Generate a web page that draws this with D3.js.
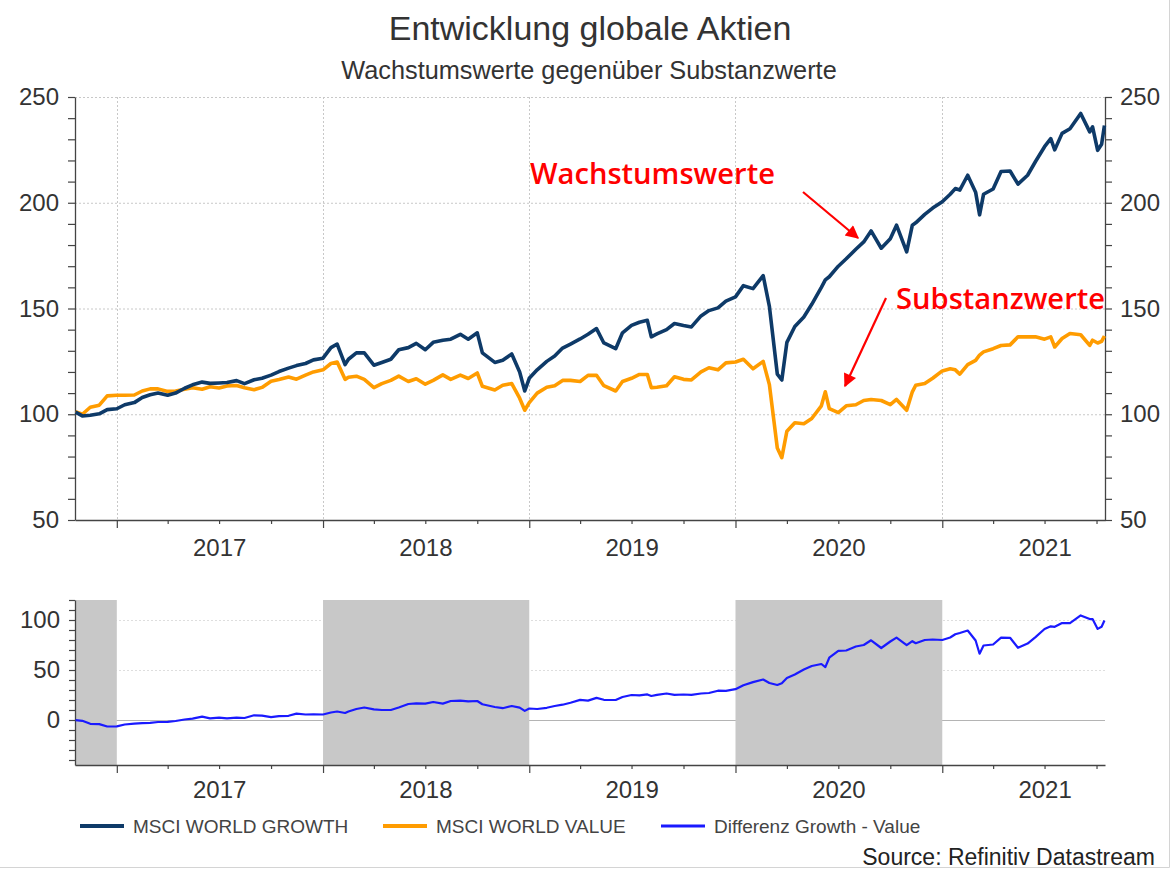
<!DOCTYPE html>
<html>
<head>
<meta charset="utf-8">
<script src="https://cdn.jsdelivr.net/npm/d3@7"></script>
<style>
  body { margin: 0; background: #fff; }
  svg { display: block; }
</style>
</head>
<body>
<div id="chart"></div>
<script>
// weekly-ish readings, index 100 = Oct 2016
var dates = [
  "2016-10-20","2016-11-01","2016-11-15","2016-12-01","2016-12-15",
  "2017-01-01","2017-01-15","2017-02-01","2017-02-15","2017-03-01","2017-03-15","2017-04-01","2017-04-15",
  "2017-05-01","2017-05-15","2017-06-01","2017-06-15","2017-07-01","2017-07-15","2017-08-01","2017-08-15",
  "2017-09-01","2017-09-15","2017-10-01","2017-10-15","2017-11-01","2017-11-15","2017-12-01","2017-12-15",
  "2018-01-01","2018-01-15","2018-01-26","2018-02-09","2018-02-15","2018-03-01","2018-03-15","2018-04-01",
  "2018-04-15","2018-05-01","2018-05-15","2018-06-01","2018-06-15","2018-07-01","2018-07-15","2018-08-01",
  "2018-08-15","2018-09-01","2018-09-15","2018-10-01","2018-10-10","2018-11-01","2018-11-15","2018-12-01",
  "2018-12-15","2018-12-24",
  "2019-01-01","2019-01-15","2019-02-01","2019-02-15","2019-03-01","2019-03-15","2019-04-01","2019-04-15",
  "2019-04-30","2019-05-13","2019-06-03","2019-06-15","2019-07-01","2019-07-15","2019-07-29","2019-08-05",
  "2019-08-15","2019-09-01","2019-09-15","2019-10-01","2019-10-15","2019-11-01","2019-11-15","2019-12-01",
  "2019-12-15",
  "2020-01-01","2020-01-15","2020-02-01","2020-02-19","2020-03-01","2020-03-15","2020-03-23","2020-04-01",
  "2020-04-15","2020-05-01","2020-05-15","2020-06-01","2020-06-08","2020-06-15","2020-07-01","2020-07-15",
  "2020-08-01","2020-08-15","2020-08-28","2020-09-15","2020-10-01","2020-10-12","2020-10-30","2020-11-09",
  "2020-11-15","2020-12-01","2020-12-15",
  "2021-01-01","2021-01-15","2021-01-24","2021-02-01","2021-02-15","2021-03-01","2021-03-08","2021-03-15",
  "2021-04-01","2021-04-15","2021-05-01","2021-05-15","2021-06-01","2021-06-15","2021-07-01","2021-07-12",
  "2021-07-19","2021-08-01","2021-08-15","2021-09-03","2021-09-19","2021-09-24","2021-10-03","2021-10-10",
  "2021-10-15"
];

var growth = [
  101.0, 99.2, 99.5, 100.2, 102.2,
  102.6, 104.5, 105.5, 107.9, 109.2, 110.0, 109.0, 110.0,
  112.3, 113.9, 115.2, 114.6, 114.8, 115.0, 115.9, 114.5,
  116.3, 117.0, 118.5, 120.2, 121.8, 123.0, 124.0, 125.7,
  126.5, 131.5, 133.2, 123.5, 126.0, 129.0, 129.0, 123.2,
  124.5, 126.0, 130.5, 131.5, 133.5, 130.5, 134.0, 135.0,
  135.5, 137.8, 135.5, 138.5, 129.0, 124.5, 125.5, 128.5,
  120.0, 111.0,
  117.0, 121.0, 125.0, 127.5, 131.3, 133.2, 135.6, 137.8,
  140.5, 133.7, 131.0, 138.5, 142.0, 143.5, 144.4, 136.6,
  138.0, 140.0, 142.9, 142.0, 141.3, 146.5, 149.0, 150.3,
  153.5,
  155.5, 160.8, 159.4, 165.5, 151.0, 119.0, 116.2, 134.0,
  141.5, 146.0, 152.0, 160.0, 163.5, 165.0, 170.0, 173.5,
  178.0, 181.5, 186.7, 178.5, 183.0, 189.4, 176.8, 189.4,
  190.5, 194.5, 197.5,
  200.5, 204.0, 206.7, 206.0, 213.0, 205.0, 194.3, 204.0,
  206.5, 214.8, 215.0, 208.8, 213.0, 219.5, 226.5, 230.3,
  225.0, 232.8, 235.0, 242.2, 233.5, 235.9, 224.8, 227.7,
  236.5
];

var value = [
  101.2, 100.0, 103.3, 104.3, 108.7,
  109.0, 109.0, 109.1, 111.0, 112.0, 112.0, 110.8, 111.0,
  111.8, 112.5, 111.8, 113.0, 112.4, 113.4, 113.6, 112.5,
  111.6, 112.7, 115.6, 116.4, 117.6, 116.6, 118.5, 120.0,
  121.0, 124.0, 124.7, 116.5, 117.5, 118.0, 116.5, 112.6,
  114.5, 116.0, 118.0, 115.5, 116.8, 114.2, 116.0, 118.6,
  116.5, 118.5, 116.9, 119.5, 113.2, 111.5, 113.7, 114.5,
  107.6, 101.9,
  105.5, 110.0, 112.8, 113.5, 116.0, 116.0, 115.5, 118.4,
  118.4, 113.5, 111.0, 115.5, 117.0, 118.8, 118.8, 112.6,
  112.8, 113.5, 117.7, 116.5, 116.2, 120.0, 122.0, 121.0,
  124.3,
  124.7, 126.0, 121.5, 125.0, 114.0, 84.0, 79.5, 92.0,
  96.0, 95.5, 98.0, 104.0, 110.6, 102.7, 100.8, 104.0,
  104.5, 106.5, 107.0, 106.5, 104.5, 107.0, 101.9, 110.6,
  113.7, 114.5, 117.0,
  120.5, 121.5, 121.0, 119.0, 123.5, 125.5, 128.0, 129.5,
  131.0, 132.5, 132.8, 136.6, 136.6, 136.6, 135.5, 136.6,
  131.8, 135.8, 138.2, 137.6, 132.6, 135.0, 133.7, 134.5,
  137.0
];

var years = ["2017", "2018", "2019", "2020", "2021"];
var shadedPeriods = [["2016-10-19", "2017-01-01"], ["2018-01-01", "2019-01-01"], ["2020-01-01", "2021-01-01"]];
var mainTicks = [50, 100, 150, 200, 250];
var diffTicks = [0, 50, 100];
var legendNames = ["MSCI WORLD GROWTH", "MSCI WORLD VALUE", "Differenz Growth - Value"];

var W = 1175, H = 869;
var font = "'Liberation Sans', Arial, sans-serif";
var colGrowth = "#0e3a68", colValue = "#ff9c00", colDiff = "#1a1aff";

var parse = d3.timeParse("%Y-%m-%d");
var data = dates.map(function (d, i) {
  return { date: parse(d), g: growth[i], v: value[i], diff: growth[i] - value[i] };
});

var svg = d3.select("#chart").append("svg")
  .attr("width", W).attr("height", H)
  .attr("font-family", font);

// scales
var x = d3.scaleTime().domain([parse("2016-10-19"), parse("2021-10-16")]).range([75, 1105]);
var y = d3.scaleLinear().domain([50, 250]).range([520, 97]);
var y2 = d3.scaleLinear().domain([-45, 120]).range([765, 600]);

var yearStarts = years.map(function (yr) { return parse(yr + "-01-01"); });

// title
svg.append("text").attr("x", 590).attr("y", 40).attr("text-anchor", "middle")
  .attr("font-size", 34).attr("fill", "#333").text("Entwicklung globale Aktien");
svg.append("text").attr("x", 589).attr("y", 79).attr("text-anchor", "middle")
  .attr("font-size", 25.3).attr("fill", "#333").text("Wachstumswerte gegenüber Substanzwerte");

//----- main chart -----
var grid = svg.append("g").attr("stroke", "#c8c8c8").attr("stroke-dasharray", "2,2");
grid.selectAll(".hg").data(mainTicks.slice(1)).enter().append("line")
  .attr("x1", 75).attr("x2", 1105)
  .attr("y1", d => y(d) + 0.5).attr("y2", d => y(d) + 0.5);
grid.selectAll(".vg").data(yearStarts).enter().append("line")
  .attr("x1", d => Math.round(x(d)) + 0.5).attr("x2", d => Math.round(x(d)) + 0.5)
  .attr("y1", 97).attr("y2", 520);

function styleAxis(g, size) {
  g.select(".domain").attr("stroke", "#444").attr("stroke-width", 1.3);
  g.selectAll(".tick line").attr("stroke", "#444").attr("stroke-width", 1.2);
  g.selectAll(".tick text").attr("font-family", font).attr("font-size", size).attr("fill", "#333");
}

var yTickVals = d3.range(50, 251, 10);
var fmtMain = function (d) { return mainTicks.indexOf(d) >= 0 ? d : ""; };

var gl = svg.append("g").attr("transform", "translate(75,0)")
  .call(d3.axisLeft(y).tickValues(yTickVals).tickSize(7).tickSizeOuter(0).tickPadding(9).tickFormat(fmtMain));
styleAxis(gl, 24);
var gr = svg.append("g").attr("transform", "translate(1105,0)")
  .call(d3.axisRight(y).tickValues(yTickVals).tickSize(7).tickSizeOuter(0).tickPadding(8).tickFormat(fmtMain));
styleAxis(gr, 24);

function timeAxis(yPos, labelY) {
  var g = svg.append("g").attr("transform", "translate(0," + yPos + ")")
    .call(d3.axisBottom(x).ticks(d3.timeMonth.every(3)).tickSize(4).tickSizeOuter(0).tickFormat(""));
  styleAxis(g, 24);
  g.selectAll(".tick line").attr("y2", function (d) { return d.getMonth() === 0 ? 8 : 4; });
  svg.append("g").selectAll("text").data(years).enter().append("text")
    .attr("x", d => x(parse(d + "-07-02")))
    .attr("y", labelY)
    .attr("text-anchor", "middle").attr("font-size", 24).attr("fill", "#333")
    .text(d => d);
}
timeAxis(520, 556);

var lineG = d3.line().x(d => x(d.date)).y(d => y(d.g)).curve(d3.curveLinear);
var lineV = d3.line().x(d => x(d.date)).y(d => y(d.v));

svg.append("path").datum(data).attr("d", lineV)
  .attr("fill", "none").attr("stroke", colValue).attr("stroke-width", 3.6).attr("stroke-linejoin", "round");
svg.append("path").datum(data).attr("d", lineG)
  .attr("fill", "none").attr("stroke", colGrowth).attr("stroke-width", 3.6).attr("stroke-linejoin", "round");

// annotations
var defs = svg.append("defs");
defs.append("marker").attr("id", "arr").attr("viewBox", "0 0 10 10")
  .attr("refX", 9).attr("refY", 5).attr("markerWidth", 7).attr("markerHeight", 6)
  .attr("markerUnits", "strokeWidth").attr("orient", "auto")
  .append("path").attr("d", "M0,0 L10,5 L0,10 z").attr("fill", "#ff0000");

var annoFont = "'Open Sans', 'Noto Sans', sans-serif";
svg.append("text").attr("x", 530).attr("y", 184).attr("font-family", annoFont)
  .attr("font-size", 29).attr("fill", "#ff0000").attr("font-weight", 600)
  .attr("textLength", 245).attr("lengthAdjust", "spacingAndGlyphs").text("Wachstumswerte");
svg.append("text").attr("x", 896).attr("y", 309).attr("font-family", annoFont)
  .attr("font-size", 29).attr("fill", "#ff0000").attr("font-weight", 600)
  .attr("textLength", 209).attr("lengthAdjust", "spacingAndGlyphs").text("Substanzwerte");

svg.append("line").attr("x1", 803).attr("y1", 192).attr("x2", 858).attr("y2", 238)
  .attr("stroke", "#ff0000").attr("stroke-width", 2.2).attr("marker-end", "url(#arr)");
svg.append("line").attr("x1", 886).attr("y1", 298).attr("x2", 845).attr("y2", 386)
  .attr("stroke", "#ff0000").attr("stroke-width", 2.2).attr("marker-end", "url(#arr)");

//----- difference chart -----
var grid2 = svg.append("g");
grid2.selectAll("line").data([50, 100]).enter().append("line")
  .attr("x1", 75).attr("x2", 1105)
  .attr("y1", d => y2(d) + 0.5).attr("y2", d => y2(d) + 0.5)
  .attr("stroke", "#dedede").attr("stroke-dasharray", "2,2");
svg.append("line").attr("x1", 75).attr("x2", 1105)
  .attr("y1", y2(0) + 0.5).attr("y2", y2(0) + 0.5).attr("stroke", "#b4b4b4");

svg.append("g").selectAll("rect").data(shadedPeriods).enter().append("rect")
  .attr("x", d => x(parse(d[0])))
  .attr("width", d => x(parse(d[1])) - x(parse(d[0])))
  .attr("y", 600).attr("height", 165)
  .attr("fill", "#c8c8c8");

var gl2 = svg.append("g").attr("transform", "translate(75,0)")
  .call(d3.axisLeft(y2).tickValues(d3.range(-40, 121, 10)).tickSize(6).tickSizeOuter(0).tickPadding(9)
    .tickFormat(d => diffTicks.indexOf(d) >= 0 ? d : ""));
styleAxis(gl2, 24);
timeAxis(765, 798);

var lineD = d3.line().x(d => x(d.date)).y(d => y2(d.diff));
svg.append("path").datum(data).attr("d", lineD)
  .attr("fill", "none").attr("stroke", colDiff).attr("stroke-width", 2.2).attr("stroke-linejoin", "round");

//----- legend -----
var legCols = [colGrowth, colValue, colDiff];
var legX = [80, 383, 661];
var leg = svg.append("g").selectAll("g").data(legendNames).enter().append("g")
  .attr("transform", (d, i) => "translate(" + legX[i] + ",826)");
leg.append("line").attr("x1", 0).attr("x2", 44).attr("y1", 0).attr("y2", 0)
  .attr("stroke", (d, i) => legCols[i]).attr("stroke-width", (d, i) => i == 2 ? 3 : 4);
leg.append("text").attr("x", 53).attr("y", 7).attr("font-size", 19).attr("fill", "#444")
  .text(d => d);

svg.append("text").attr("x", 1155).attr("y", 865).attr("text-anchor", "end")
  .attr("font-size", 23).attr("fill", "#222").text("Source: Refinitiv Datastream");

// frame right/bottom
svg.append("path").attr("d", "M1169.5,0 V867.5 H0").attr("fill", "none").attr("stroke", "#d4d4d4");
</script>
</body>
</html>
